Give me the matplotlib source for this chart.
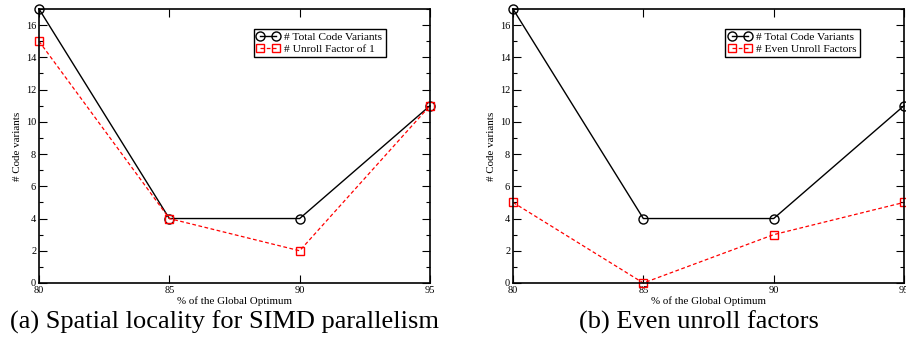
import matplotlib
matplotlib.use("Agg")
import matplotlib.pyplot as plt
from matplotlib.ticker import MultipleLocator

plt.rcParams['font.family'] = ['Liberation Serif', 'DejaVu Serif']

x_vals = [80, 85, 90, 95]
total_variants = [17, 4, 4, 11]
unroll_factor_1 = [15, 4, 2, 11]
even_unroll = [5, 0, 3, 5]

panels = [
    ("# Unroll Factor of 1", unroll_factor_1, "(a) Spatial locality for SIMD parallelism"),
    ("# Even Unroll Factors", even_unroll, "(b) Even unroll factors"),
]

fig = plt.figure(figsize=(9.06, 3.39), dpi=100)
lefts = [39 / 906, 513 / 906]
W = 391 / 906
B = 1 - 283 / 339
H = (283 - 9) / 339

for left, (lab2, ser2, caption) in zip(lefts, panels):
    ax = fig.add_axes([left, B, W, H])
    ax.plot(x_vals, total_variants, color='black', lw=1.0, marker='o', ms=6.5,
            mfc='none', mec='black', mew=1.0, clip_on=False, label="# Total Code Variants")
    ax.plot(x_vals, ser2, color='red', lw=0.9, ls='--', dashes=(3, 2), marker='s', ms=5.5,
            mfc='none', mec='red', mew=1.0, clip_on=False, label=lab2)
    ax.set_xlim(80, 95)
    ax.set_ylim(0, 17)
    ax.xaxis.set_major_locator(MultipleLocator(5))
    ax.yaxis.set_major_locator(MultipleLocator(2))
    ax.yaxis.set_minor_locator(MultipleLocator(1))
    ax.tick_params(which='both', direction='in', top=True, right=True, labelsize=7.5, pad=2)
    ax.tick_params(which='major', length=5.5, width=0.8)
    ax.tick_params(which='minor', length=3, width=0.8)
    for s in ax.spines.values():
        s.set_linewidth(1.2)
    ax.set_xlabel("% of the Global Optimum", fontsize=7.9, labelpad=1)
    ax.set_ylabel("# Code variants", fontsize=7.9, labelpad=3)
    leg = ax.legend(loc='upper right', bbox_to_anchor=(0.887, 0.927), fontsize=8.2,
                    frameon=True, fancybox=False, edgecolor='black', framealpha=1,
                    numpoints=2, handlelength=2.0, handletextpad=0.4, borderpad=0.3,
                    labelspacing=0.1, borderaxespad=0)
    leg.get_frame().set_linewidth(1.0)
    fig.text(left + W / 2 - 10 / 906, 1 - 322 / 339, caption, ha='center', va='center',
             fontsize=19)

fig.savefig("out.png", dpi=100)
